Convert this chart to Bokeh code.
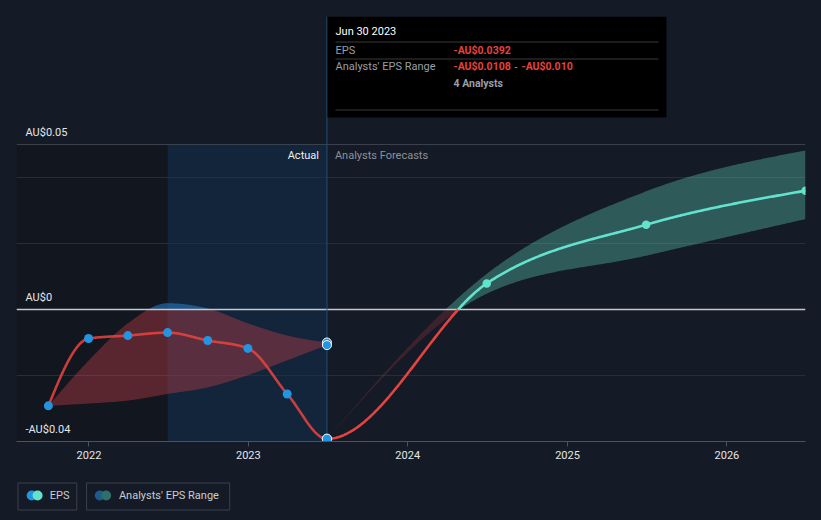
import numpy as np
import pandas as pd
from bokeh.plotting import figure
from bokeh.layouts import column
from bokeh.models import Range1d, FixedTicker, DatetimeTickFormatter
from bokeh.core.properties import value
from bokeh.embed import file_html
from bokeh.resources import INLINE

# ---------------- data ----------------
actual_dates = ["2021-09-30", "2021-12-31", "2022-03-31", "2022-06-30",
                "2022-09-30", "2022-12-31", "2023-03-31", "2023-06-30"]
actual_eps = [-0.0292, -0.0088, -0.0079, -0.0070, -0.0094, -0.0118, -0.0256, -0.0392]
actual_range_high = [-0.0292, -0.0155, -0.0042, 0.0019, 0.0003, -0.0042, -0.0079, -0.0100]
actual_range_low = [-0.0292, -0.0285, -0.0276, -0.0256, -0.0236, -0.0199, -0.0154, -0.0108]

forecast_dates = ["2023-06-30", "2024-06-30", "2025-06-30", "2026-06-30"]
forecast_eps = [-0.0392, 0.0079, 0.0257, 0.0360]
forecast_high = [-0.0392, 0.0108, 0.0358, 0.0482]
forecast_low = [-0.0392, 0.0048, 0.0163, 0.0274]

year_ticks = [2022, 2023, 2024, 2025, 2026]
y_label_values = [0.05, 0.0, -0.04]
y_label_texts = ["AU$0.05", "AU$0", "-AU$0.04"]
minor_grid_values = [-0.02, 0.02, 0.04]

tooltip_date = "Jun 30 2023"
tooltip_eps = "-AU$0.0392"
tooltip_low = "-AU$0.0108"
tooltip_high = "-AU$0.010"
tooltip_analysts = "4 Analysts"

# ---------------- style ----------------
BG = "#151b26"
RED = "#e5433f"
CYAN = "#63e3cd"
BLUE = "#2394df"
FONT = value("Roboto")


def ms(dates):
    return (pd.to_datetime(dates).astype("int64") // 10**6).to_numpy().astype(float)


def monotone(xs, ys, n=120):
    xs = np.asarray(xs, float)
    ys = np.asarray(ys, float)
    h = np.diff(xs)
    s = np.diff(ys) / h
    m = len(xs)
    t = np.zeros(m)
    for i in range(1, m - 1):
        p = (s[i - 1] * h[i] + s[i] * h[i - 1]) / (h[i - 1] + h[i])
        t[i] = (np.sign(s[i - 1]) + np.sign(s[i])) * min(abs(s[i - 1]), abs(s[i]), 0.5 * abs(p))
    if m > 2:
        t[0] = (3 * s[0] - t[1]) / 2
        t[-1] = (3 * s[-1] - t[-2]) / 2
    else:
        t[:] = s[0]
    X, Y = [], []
    for i in range(m - 1):
        u = np.linspace(0, 1, n, endpoint=(i == m - 2))
        h00 = 2 * u**3 - 3 * u**2 + 1
        h10 = u**3 - 2 * u**2 + u
        h01 = -2 * u**3 + 3 * u**2
        h11 = u**3 - u**2
        X.append(xs[i] + u * h[i])
        Y.append(h00 * ys[i] + h10 * h[i] * t[i] + h01 * ys[i + 1] + h11 * h[i] * t[i + 1])
    return np.concatenate(X), np.concatenate(Y)


def with_crossings(x, y):
    xo, yo = [x[0]], [y[0]]
    for i in range(1, len(x)):
        if (y[i - 1] < 0 < y[i]) or (y[i - 1] > 0 > y[i]):
            f = y[i - 1] / (y[i - 1] - y[i])
            xo.append(x[i - 1] + f * (x[i] - x[i - 1]))
            yo.append(0.0)
        xo.append(x[i])
        yo.append(y[i])
    return np.array(xo), np.array(yo)


# ---------------- main figure ----------------
x_start = pd.Timestamp("2021-07-19")
x_end = pd.Timestamp("2026-06-30")
y_start = -0.04
y_end = -0.04 + 425 / 3300

p = figure(width=805, height=462, x_axis_type="datetime", y_axis_location=None,
           x_range=Range1d(x_start, x_end), y_range=Range1d(y_start, y_end),
           output_backend="svg", toolbar_location=None,
           min_border_left=8, min_border_right=8, min_border_top=8, min_border_bottom=29,
           background_fill_color=BG, border_fill_color=BG, outline_line_color=None)
p.xgrid.visible = False
p.ygrid.visible = False
p.extra_x_ranges = {"px": Range1d(16, 805)}
p.extra_y_ranges = {"py": Range1d(441, 16)}

p.xaxis.ticker = FixedTicker(ticks=list(ms([f"{y}-01-01" for y in year_ticks])))
p.xaxis.formatter = DatetimeTickFormatter(years="%Y", months="%Y", days="%Y", hours="%Y",
                                          hourmin="%Y", minutes="%Y", minsec="%Y",
                                          seconds="%Y", milliseconds="%Y", microseconds="%Y")
p.xaxis.axis_line_color = "#4b5260"
p.xaxis.major_tick_line_color = "#4b5260"
p.xaxis.minor_tick_line_color = None
p.xaxis.major_tick_in = 0
p.xaxis.major_tick_out = 5
p.xaxis.major_label_standoff = 4
p.xaxis.major_label_text_color = "#e4e6ea"
p.xaxis.major_label_text_font = "Roboto"
p.xaxis.major_label_text_font_size = "11px"

a_x = ms(actual_dates)
f_x = ms(forecast_dates)

# shaded periods
p.quad(left=[ms([str(x_start.date())])[0]], right=[a_x[3]], top=[0.05], bottom=[y_start],
       fill_color="#000000", fill_alpha=0.18, line_color=None)
p.quad(left=[a_x[3]], right=[a_x[-1]], top=[0.05], bottom=[y_start],
       fill_color="#0f3a62", fill_alpha=0.35, line_color=None)

# grid lines
p.hspan(y=minor_grid_values, line_color="#272e39", line_width=1)
p.hspan(y=[0.05], line_color="#3a414c", line_width=1)

# historic analyst range band
hx, hh = monotone(a_x, actual_range_high)
_, hl = monotone(a_x, actual_range_low)
p.varea(x=hx, y1=hl, y2=np.minimum(hh, 0), fill_color="#e0434b", fill_alpha=0.35)
p.varea(x=hx, y1=np.maximum(hl, 0), y2=np.maximum(hh, 0), fill_color="#2478be", fill_alpha=0.6)

# forecast analyst range band
fx, fh = monotone(f_x, forecast_high)
_, fl = monotone(f_x, forecast_low)
p.varea(x=fx, y1=np.minimum(fl, 0), y2=np.minimum(fh, 0), fill_color="#e0434b", fill_alpha=0.2)
p.varea(x=fx, y1=np.maximum(fl, 0), y2=np.maximum(fh, 0), fill_color="#5ac8b4", fill_alpha=0.37)

# zero line
p.hspan(y=[0.0], line_color="#c5c8cc", line_width=1.5)

# divider at last actual
p.segment(x0=[a_x[-1]], y0=[y_start], x1=[a_x[-1]], y1=[y_end], line_color="#1f5078", line_width=1)

# EPS line (actual + forecast), red below zero, cyan above
all_x = np.concatenate([a_x, f_x[1:]])
all_y = np.concatenate([actual_eps, forecast_eps[1:]])
cx, cy = monotone(all_x, all_y)
cx, cy = with_crossings(cx, cy)
past = cx <= a_x[-1]
fut = cx >= a_x[-1]
p.line(cx[past], np.where(cy[past] <= 0, cy[past], np.nan), line_color=RED, line_width=2.6, line_alpha=0.88)
p.line(cx[fut], np.where(cy[fut] <= 0, cy[fut], np.nan), line_color=RED, line_width=2.6)
p.line(cx[fut], np.where(cy[fut] >= 0, cy[fut], np.nan), line_color=CYAN, line_width=2.6)

# dots
p.scatter(a_x[:-1], actual_eps[:-1], size=9, fill_color=BLUE, line_color=None)
p.scatter([a_x[-1], a_x[-1]], [actual_range_high[-1], actual_range_low[-1]], size=9,
          fill_color=BLUE, line_color="white", line_width=1)
p.scatter([a_x[-1]], [actual_eps[-1]], size=9.5, fill_color=BLUE, line_color="white", line_width=1)
p.scatter(f_x[1:], forecast_eps[1:], size=8.5, fill_color=CYAN, line_color=None)

# y labels
p.text(x=[x_start] * 3, y=y_label_values, text=y_label_texts, x_offset=9, y_offset=-12,
       text_font=FONT, text_font_size="11px", text_color="#e4e6ea", text_baseline="middle")

# Actual / Forecast labels
p.text(x=[a_x[-1]], y=[0.05], text=["Actual"], x_offset=-8, y_offset=11, text_align="right",
       text_font=FONT, text_font_size="11px", text_color="#eef0f2", text_baseline="middle")
p.text(x=[a_x[-1]], y=[0.05], text=["Analysts Forecasts"], x_offset=8, y_offset=11,
       text_font=FONT, text_font_size="11px", text_color="#8b9099", text_baseline="middle")

# tooltip box (page-pixel coordinates)
kw = dict(x_range_name="px", y_range_name="py")
p.quad(left=[327], right=[666], top=[16], bottom=[117], fill_color="#000000", line_color=None, **kw)
p.segment(x0=[335, 335, 335], x1=[658, 658, 658], y0=[41.5, 58.5, 109.5], y1=[41.5, 58.5, 109.5],
          line_color="#3a3a3a", line_width=1, **kw)
tt = dict(text_font=FONT, text_font_size="11px", text_baseline="middle", **kw)
p.text(x=[335], y=[31], text=[tooltip_date], text_color="#ffffff", **tt)
p.text(x=[335, 335], y=[49.5, 66], text=["EPS", "Analysts' EPS Range"], text_color="#9a9ea5", **tt)
tr = dict(tt)
tr["text_font_size"] = "10.5px"
p.text(x=[453, 453, 521], y=[49.5, 66, 66], text=[tooltip_eps, tooltip_low, tooltip_high],
       text_color="#e5433f", text_font_style="bold", **tr)
p.text(x=[514], y=[66], text=["-"], text_color="#9a9ea5", **tt)
p.text(x=[453], y=[83], text=[tooltip_analysts], text_color="#9a9ea5", text_font_style="bold", **tr)

# ---------------- legend figure ----------------
lg = figure(width=805, height=42, x_range=Range1d(16, 821), y_range=Range1d(512, 470),
            output_backend="svg", toolbar_location=None, x_axis_location=None, y_axis_location=None,
            min_border=0, min_border_left=0, min_border_right=0, min_border_top=0, min_border_bottom=0,
            background_fill_color=BG, border_fill_color=BG, outline_line_color=None)
lg.grid.visible = False
lg.quad(left=[17.5, 87.5], right=[77.5, 233.5], top=[482.5, 482.5], bottom=[509.5, 509.5],
        fill_color=None, line_color="#3b414c", line_width=1)
lg.scatter([31.5], [495], size=10, fill_color=BLUE, line_color=None)
lg.scatter([37.5], [495], size=10, fill_color=CYAN, line_color=None)
lg.scatter([101], [495], size=10, fill_color="#1f5a8a", line_color=None)
lg.scatter([107.5], [495], size=10, fill_color="#2e6f6c", line_color=None)
lg.text(x=[50, 120.5], y=[495, 495], text=["EPS", "Analysts' EPS Range"], text_color="#c9ccd1",
        text_font=FONT, text_font_size="11px", text_baseline="middle")

layout = column(p, lg, spacing=0, styles={"background-color": BG})
html = file_html(layout, INLINE)
html = html.replace("<body>", '<body style="margin:8px;background-color:%s;">' % BG)
open("out.html", "w").write(html)
